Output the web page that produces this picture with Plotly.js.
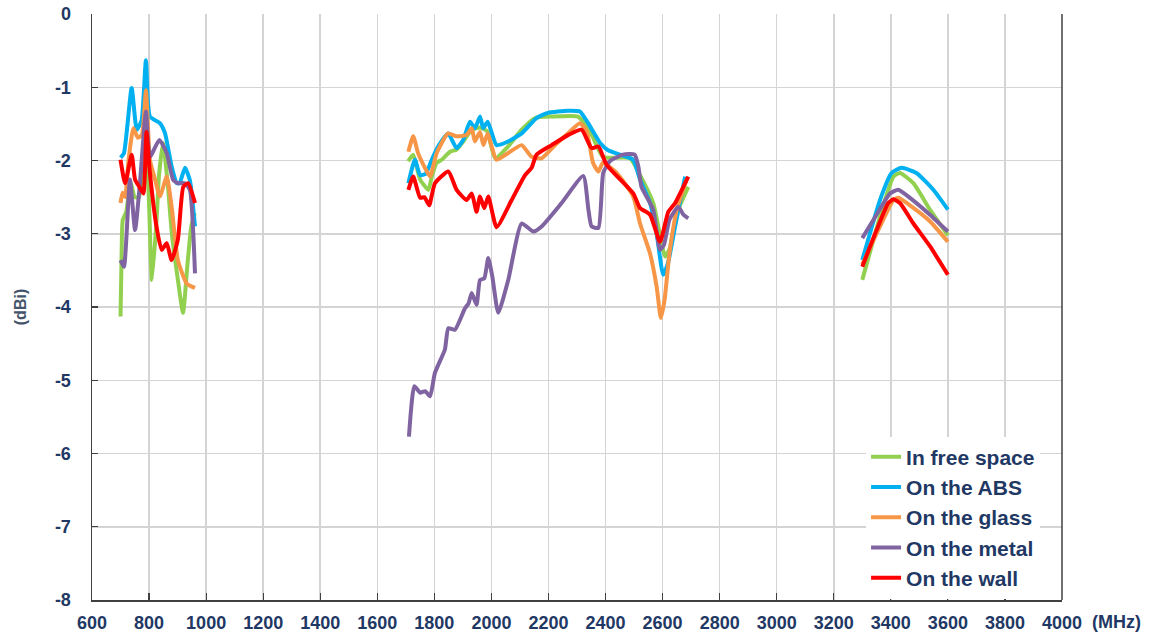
<!DOCTYPE html>
<html>
<head>
<meta charset="utf-8">
<script src="https://cdn.plot.ly/plotly-3.0.1.min.js"></script>
<style>html,body{margin:0;padding:0;background:#fff;}#chart{width:1151px;height:641px;}</style>
</head>
<body>
<div id="chart"></div>
<script>
// Frequencies (MHz) and gains (dBi); null separates the three bands
const freeSpaceF = [700,705,708,720,735,750,765,780,790,800,810,825,835,849,865,880,900,919,935,948,960, null,
  1708,1726,1750,1779,1791,1808,1826,1855,1878,1901,1931,1960,1985,2013,2058,2106,2153,2211,2303,2340,2391,2486,2521,2567,2609,2625,2650,2690, null,
  3300,3362,3409,3432,3479,3537,3600];
const freeSpaceG = [-4.13,-3.0,-2.81,-2.7,-2.3,-2.5,-2.5,-2.0,-1.75,-2.6,-3.63,-2.9,-2.2,-1.76,-2.3,-3.0,-3.6,-4.08,-3.4,-2.9,-2.72, null,
  -2.01,-1.92,-2.26,-2.40,-2.22,-2.03,-1.99,-1.88,-1.85,-1.74,-1.58,-1.55,-1.60,-1.97,-1.81,-1.58,-1.42,-1.40,-1.40,-1.55,-1.95,-1.97,-2.20,-2.58,-3.31,-3.20,-2.72,-2.36, null,
  -3.63,-2.77,-2.22,-2.17,-2.31,-2.67,-3.02];

const absF = [700,712,739,757,774,789,803,838,856,879,897,907,926,943,961, null,
  1709,1732,1750,1770,1791,1813,1848,1878,1901,1925,1942,1960,1971,1987,2018,2058,2106,2158,2198,2268,2310,2339,2381,2409,2451,2497,2521,2556,2579,2602,2619,2644,2679, null,
  3300,3362,3403,3438,3490,3549,3600];
const absG = [-1.96,-1.90,-1.01,-1.58,-1.45,-0.63,-1.40,-1.49,-1.63,-2.08,-2.31,-2.31,-2.10,-2.27,-2.90, null,
  -2.31,-1.99,-2.20,-2.18,-1.99,-1.81,-1.63,-1.83,-1.72,-1.47,-1.56,-1.40,-1.56,-1.47,-1.79,-1.74,-1.63,-1.42,-1.35,-1.32,-1.33,-1.49,-1.76,-1.86,-1.92,-1.99,-2.26,-2.58,-2.99,-3.56,-3.40,-2.90,-2.22, null,
  -3.36,-2.54,-2.17,-2.10,-2.17,-2.40,-2.67];

const glassF = [700,707,716,728,745,761,775,789,803,821,838,862,879,901,932,961, null,
  1709,1726,1743,1767,1785,1808,1848,1878,1913,1931,1942,1960,1972,1987,2001,2018,2058,2106,2141,2176,2223,2268,2310,2334,2356,2375,2391,2439,2497,2521,2556,2579,2594,2607,2624,2650,2684, null,
  3300,3362,3409,3426,3473,3537,3600];
const glassG = [-2.58,-2.44,-2.50,-2.00,-1.56,-1.69,-1.65,-1.04,-1.99,-2.26,-2.49,-2.22,-2.63,-3.36,-3.68,-3.74, null,
  -1.88,-1.67,-1.90,-2.10,-2.22,-1.90,-1.63,-1.67,-1.65,-1.56,-1.74,-1.61,-1.79,-1.63,-1.81,-1.99,-1.90,-1.79,-1.95,-1.97,-1.79,-1.63,-1.49,-1.60,-2.03,-2.15,-2.03,-2.17,-2.49,-2.86,-3.27,-3.72,-4.15,-3.90,-3.27,-2.67,-2.26, null,
  -3.42,-2.90,-2.54,-2.51,-2.63,-2.83,-3.11];

const metalF = [700,712,733,751,768,789,803,836,862,884,901,926,943,961, null,
  1711,1730,1750,1768,1785,1802,1837,1849,1872,1907,1920,1931,1948,1960,1975,1989,2003,2024,2059,2106,2147,2176,2246,2322,2340,2351,2375,2392,2415,2461,2502,2515,2526,2567,2591,2605,2624,2655,2673,2690, null,
  3300,3350,3397,3426,3467,3537,3600];
const metalG = [-3.36,-3.45,-2.26,-2.95,-2.31,-1.33,-1.95,-1.72,-1.90,-2.26,-2.31,-2.31,-2.40,-3.54, null,
  -5.77,-5.08,-5.17,-5.15,-5.22,-4.90,-4.58,-4.29,-4.31,-4.02,-3.95,-3.81,-3.97,-3.63,-3.61,-3.33,-3.58,-4.08,-3.63,-2.86,-2.97,-2.90,-2.58,-2.21,-2.67,-2.90,-2.92,-2.17,-2.01,-1.92,-1.92,-2.08,-2.36,-2.67,-3.22,-3.15,-2.81,-2.63,-2.74,-2.79, null,
  -3.06,-2.74,-2.45,-2.40,-2.51,-2.74,-2.97];

const wallF = [700,716,739,751,766,780,791,803,826,844,862,879,901,920,937,961, null,
  1709,1726,1750,1765,1782,1802,1849,1878,1913,1931,1948,1960,1975,1989,2018,2071,2118,2141,2158,2211,2270,2316,2351,2375,2404,2497,2521,2556,2591,2620,2644,2690, null,
  3300,3350,3391,3409,3432,3479,3537,3600];
const wallG = [-1.99,-2.31,-1.92,-2.26,-2.36,-2.45,-1.61,-2.17,-2.90,-3.22,-3.13,-3.36,-3.08,-2.36,-2.31,-2.58, null,
  -2.40,-2.22,-2.51,-2.50,-2.61,-2.31,-2.15,-2.40,-2.54,-2.45,-2.70,-2.49,-2.65,-2.49,-2.91,-2.54,-2.20,-2.10,-1.92,-1.79,-1.65,-1.58,-1.83,-1.81,-2.06,-2.45,-2.65,-2.74,-3.11,-2.70,-2.58,-2.22, null,
  -3.45,-2.95,-2.58,-2.53,-2.58,-2.86,-3.17,-3.56];

const seriesNames = ["In free space","On the ABS","On the glass","On the metal","On the wall"];
const seriesColors = ["#92d050","#00b0f0","#f79646","#8064a2","#ff0000"];
const xTicks = [600,800,1000,1200,1400,1600,1800,2000,2200,2400,2600,2800,3000,3200,3400,3600,3800,4000];
const yTicks = [0,-1,-2,-3,-4,-5,-6,-7,-8];

const xs = [freeSpaceF, absF, glassF, metalF, wallF];
const ys = [freeSpaceG, absG, glassG, metalG, wallG];

const traces = seriesNames.map((n, i) => ({
  type: "scatter", mode: "lines", name: n, x: xs[i], y: ys[i],
  connectgaps: false,
  line: {color: seriesColors[i], width: 4, shape: "spline", smoothing: 0.5}
}));

const tickFont = {family: "Liberation Sans Narrow, Arial Narrow, Liberation Sans, Arial, sans-serif", size: 18, color: "#1f3864", weight: "bold"};

const layout = {
  width: 1151, height: 641,
  margin: {l: 92, r: 89, t: 14, b: 41},
  paper_bgcolor: "#ffffff", plot_bgcolor: "#ffffff",
  showlegend: true,
  xaxis: {
    range: [600, 4000], tickvals: xTicks, ticktext: xTicks.map(String),
    showgrid: true, gridcolor: "#d4d4d4", gridwidth: 1.5,
    showline: true, linecolor: "#404040", linewidth: 1.5,
    ticks: "inside", ticklen: 7, tickcolor: "#404040", tickwidth: 1.2,
    tickfont: tickFont, ticklabelstandoff: 6, zeroline: false
  },
  yaxis: {
    range: [-8, 0], tickvals: yTicks, ticktext: yTicks.map(String),
    showgrid: true, gridcolor: "#d4d4d4", gridwidth: 1.5,
    showline: true, linecolor: "#404040", linewidth: 1.5,
    ticks: "inside", ticklen: 6, tickcolor: "#404040", tickwidth: 1.2,
    tickfont: tickFont, ticklabelstandoff: 16, zeroline: false,
    title: {text: "(dBi)", standoff: 24, font: {family: "Liberation Sans, Arial, sans-serif", size: 16, color: "#44546a", weight: "bold"}}
  },
  legend: {
    x: 0.798, y: 0.279, xanchor: "left", yanchor: "top",
    bgcolor: "#ffffff", borderwidth: 0,
    font: {family: "Liberation Sans Narrow, Arial Narrow, Liberation Sans, Arial, sans-serif", size: 21, color: "#1f3864", weight: "bold"},
    itemwidth: 30, tracegroupgap: 0
  },
  shapes: [{type: "line", xref: "paper", yref: "paper", x0: 1, x1: 1, y0: 0, y1: 1, line: {color: "#404040", width: 1.5}}],
  annotations: [{
    text: "(MHz)", xref: "paper", yref: "paper", x: 1.029, y: 0, xanchor: "left", yanchor: "top", yshift: -10,
    showarrow: false, font: {family: "Liberation Sans Narrow, Arial Narrow, Liberation Sans, Arial, sans-serif", size: 18, color: "#1f3864", weight: "bold"}
  }]
};

Plotly.newPlot("chart", traces, layout, {staticPlot: true, displayModeBar: false});
</script>
</body>
</html>
